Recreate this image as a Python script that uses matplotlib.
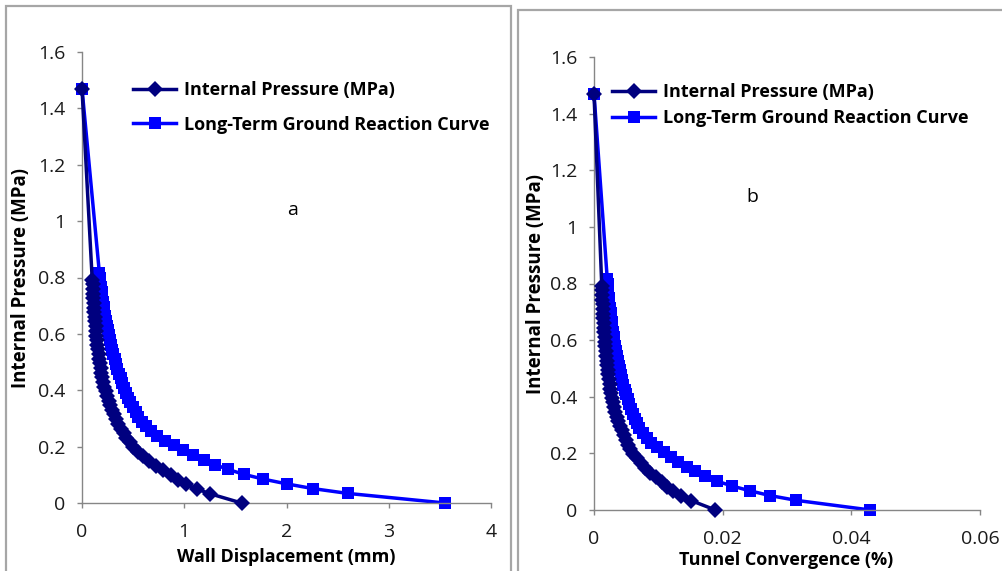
import matplotlib
matplotlib.use("Agg")
import matplotlib.pyplot as plt
from matplotlib.patches import Rectangle

plt.rcParams['font.family'] = ['Open Sans', 'DejaVu Sans']

# ---------------- data ----------------
# Panel a: wall displacement (mm) vs internal pressure (MPa)
ip_pressure = [1.47, 0.792, 0.776, 0.759, 0.743, 0.726, 0.710, 0.693, 0.677, 0.660,
               0.644, 0.627, 0.611, 0.594, 0.578, 0.561, 0.545, 0.528, 0.512, 0.495,
               0.479, 0.462, 0.446, 0.429, 0.413, 0.396, 0.380, 0.363, 0.347, 0.330,
               0.314, 0.297, 0.281, 0.264, 0.248, 0.231, 0.215, 0.198, 0.182, 0.165,
               0.149, 0.132, 0.116, 0.099, 0.083, 0.066, 0.050, 0.033, 0.0]
ip_displacement = [0.0, 0.100, 0.103, 0.106, 0.109, 0.112, 0.115, 0.118, 0.121, 0.125,
                   0.129, 0.133, 0.137, 0.141, 0.146, 0.151, 0.156, 0.162, 0.168, 0.174,
                   0.181, 0.190, 0.200, 0.210, 0.220, 0.232, 0.246, 0.260, 0.276, 0.293,
                   0.312, 0.333, 0.356, 0.380, 0.406, 0.434, 0.465, 0.500, 0.550, 0.600,
                   0.660, 0.720, 0.790, 0.870, 0.940, 1.020, 1.120, 1.250, 1.560]
ip_convergence = [0.0, 0.00121, 0.00125, 0.00128, 0.00132, 0.00136, 0.00139, 0.00143, 0.00146, 0.00151,
                  0.00156, 0.00161, 0.00166, 0.00171, 0.00177, 0.00183, 0.00189, 0.00196, 0.00203, 0.00211,
                  0.00219, 0.00230, 0.00242, 0.00254, 0.00266, 0.00281, 0.00298, 0.00315, 0.00334, 0.00355,
                  0.00378, 0.00403, 0.00431, 0.00460, 0.00491, 0.00525, 0.00563, 0.00605, 0.00666, 0.00726,
                  0.00799, 0.00871, 0.00956, 0.01053, 0.01137, 0.01234, 0.01355, 0.01513, 0.01888]

grc_pressure = [1.47, 0.816, 0.799, 0.782, 0.765, 0.748, 0.731, 0.714, 0.697, 0.680,
                0.663, 0.646, 0.629, 0.612, 0.595, 0.578, 0.561, 0.544, 0.527, 0.510,
                0.493, 0.476, 0.459, 0.442, 0.425, 0.408, 0.391, 0.374, 0.357, 0.340,
                0.323, 0.306, 0.289, 0.272, 0.255, 0.238, 0.221, 0.204, 0.187, 0.170,
                0.153, 0.136, 0.119, 0.102, 0.085, 0.068, 0.051, 0.034, 0.0]
grc_displacement = [0.0, 0.170, 0.175, 0.180, 0.186, 0.192, 0.198, 0.205, 0.212, 0.219,
                    0.227, 0.235, 0.244, 0.253, 0.263, 0.273, 0.284, 0.295, 0.307, 0.320,
                    0.333, 0.347, 0.362, 0.378, 0.395, 0.413, 0.432, 0.452, 0.474, 0.498,
                    0.524, 0.552, 0.583, 0.625, 0.675, 0.735, 0.810, 0.900, 0.990, 1.085,
                    1.190, 1.300, 1.430, 1.580, 1.770, 2.000, 2.260, 2.600, 3.550]
grc_convergence = [0.0, 0.00206, 0.00212, 0.00218, 0.00225, 0.00232, 0.00240, 0.00248, 0.00257, 0.00265,
                   0.00275, 0.00284, 0.00295, 0.00306, 0.00318, 0.00330, 0.00344, 0.00357, 0.00371, 0.00387,
                   0.00403, 0.00420, 0.00438, 0.00457, 0.00478, 0.00500, 0.00523, 0.00547, 0.00574, 0.00603,
                   0.00634, 0.00668, 0.00705, 0.00756, 0.00817, 0.00889, 0.00980, 0.01089, 0.01198, 0.01313,
                   0.01440, 0.01573, 0.01730, 0.01912, 0.02142, 0.02420, 0.02735, 0.03146, 0.04296]

series_names = ["Internal Pressure (MPa)", "Long-Term Ground Reaction Curve"]
y_ticks = [0, 0.2, 0.4, 0.6, 0.8, 1.0, 1.2, 1.4, 1.6]
y_ticklabels = ["0", "0.2", "0.4", "0.6", "0.8", "1", "1.2", "1.4", "1.6"]
xa_ticks = [0, 1, 2, 3, 4]
xa_ticklabels = ["0", "1", "2", "3", "4"]
xb_ticks = [0, 0.02, 0.04, 0.06]
xb_ticklabels = ["0", "0.02", "0.04", "0.06"]

# ---------------- figure ----------------
W, H = 1003, 571
fig = plt.figure(figsize=(W / 100, H / 100), dpi=100)

def px_rect(x0, y0, x1, y1):
    return [x0 / W, 1 - y1 / H, (x1 - x0) / W, (y1 - y0) / H]

# panel frames
fig.patches.append(Rectangle((6 / W, -0.05), (511 - 6) / W, 1.05 - 6 / H,
                             transform=fig.transFigure, fill=False,
                             edgecolor='#a6a6a6', linewidth=1.6))
fig.patches.append(Rectangle((518 / W, -0.05), 0.6, 1.05 - 10 / H,
                             transform=fig.transFigure, fill=False,
                             edgecolor='#a6a6a6', linewidth=1.6))

axa = fig.add_axes(px_rect(82, 52, 491, 503))
axb = fig.add_axes(px_rect(594, 57, 980, 510))

navy = '#00007f'
blue = '#0000ff'
gray = '#868686'

TICK_FS = 14
XLABEL_FS = 13
YLABEL_FS = 13.5
LEG_FS = 13

def style(ax, xticks, xlabels, xlim, xlabel, xlab_pos, ylab_pos):
    for s in ['top', 'right']:
        ax.spines[s].set_visible(False)
    for s in ['left', 'bottom']:
        ax.spines[s].set_color(gray)
        ax.spines[s].set_linewidth(1.0)
    ax.set_xlim(*xlim)
    ax.set_ylim(0, 1.6)
    ax.set_xticks(xticks)
    ax.set_xticklabels(xlabels)
    ax.set_yticks(y_ticks)
    ax.set_yticklabels(y_ticklabels)
    ax.tick_params(direction='out', length=3.6, width=1.0, color=gray,
                   labelsize=TICK_FS, labelcolor='#1a1a1a')
    ax.tick_params(axis='y', pad=8.5)
    ax.tick_params(axis='x', pad=11)
    ax.set_xlabel(xlabel, fontsize=XLABEL_FS, fontweight='bold')
    ax.set_ylabel("Internal Pressure (MPa)", fontsize=YLABEL_FS, fontweight='bold')
    ax.xaxis.set_label_coords(*xlab_pos)
    ax.yaxis.set_label_coords(*ylab_pos)

def draw(ax, x_ip, x_grc):
    ax.plot(x_ip, ip_pressure, color=navy, lw=2.5, marker='D', markersize=8.3,
            markeredgewidth=0, label=series_names[0], clip_on=False, zorder=3)
    ax.plot(x_grc, grc_pressure, color=blue, lw=2.5, marker='s', markersize=9.2,
            markeredgewidth=0, label=series_names[1], clip_on=False, zorder=2)

draw(axa, ip_displacement, grc_displacement)
draw(axb, ip_convergence, grc_convergence)

style(axa, xa_ticks, xa_ticklabels, (0, 4), "Wall Displacement (mm)", (0.50, -0.100), (-0.125, 0.5))
style(axb, xb_ticks, xb_ticklabels, (0, 0.06), "Tunnel Convergence (%)", (0.497, -0.091), (-0.125, 0.5))

def legend(ax, anchor, spacing):
    h, l = ax.get_legend_handles_labels()
    leg = ax.legend(h, l, loc='upper left', bbox_to_anchor=anchor, frameon=False,
                    borderpad=0, borderaxespad=0, handlelength=2.4, handletextpad=0.4,
                    labelspacing=spacing, prop={'size': LEG_FS, 'weight': 'bold'})
    return leg

legend(axa, (0.1247, 0.935), 0.90)
legend(axb, (0.0466, 0.942), 0.42)

axa.text(0.516, 0.650, "a", transform=axa.transAxes, fontsize=TICK_FS, ha='center', va='center')
axb.text(0.409, 0.691, "b", transform=axb.transAxes, fontsize=TICK_FS, ha='center', va='center')

fig.savefig("out.png", dpi=100)
